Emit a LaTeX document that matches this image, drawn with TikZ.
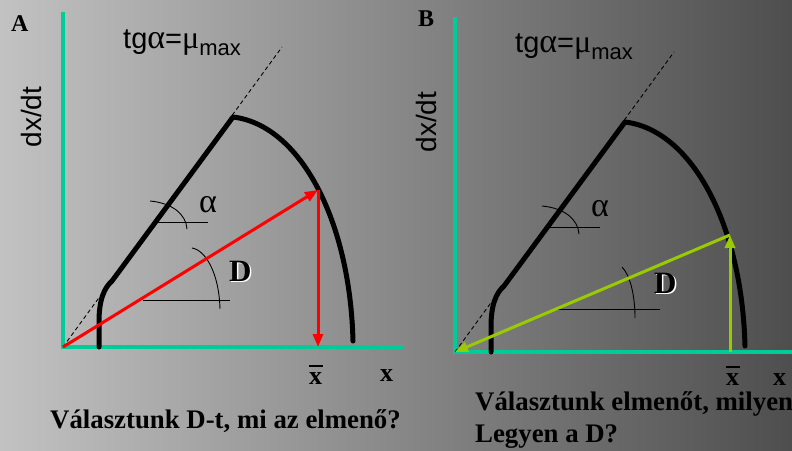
\documentclass[tikz,border=0pt]{standalone}
\usepackage{fontspec}
\setmainfont{Liberation Serif}
\setsansfont{Liberation Sans}
\usetikzlibrary{positioning,arrows.meta}
\definecolor{axisgreen}{RGB}{0,204,153}
\definecolor{limegreen}{RGB}{153,204,0}
\definecolor{bgleft}{RGB}{194,194,194}
\definecolor{bgmid}{RGB}{158,158,158}
\definecolor{bgright}{RGB}{78,78,78}

\newcommand{\embossD}{\makebox[0pt][l]{\hspace{1.5pt}\raisebox{-1.5pt}{\color{white}D}}D}
\newcommand{\xbar}{\makebox[0pt][l]{\hspace{-0.5pt}\raisebox{17pt}{\rule{14pt}{2.4pt}}}x}
\newcommand{\bigalpha}{{\rmfamily\fontsize{34}{34}\selectfont α}}

\begin{document}
\begin{tikzpicture}[
    x=1pt, y=-1pt,
    axis/.style={
        draw=axisgreen,
        line width=3.5pt
    },
    curve/.style={
        draw=black,
        line width=5pt,
        line cap=round,
        line join=round
    },
    guide/.style={
        draw=black,
        line width=0.9pt,
        dash pattern=on 4pt off 3pt
    },
    anglemark/.style={
        draw=black,
        line width=0.9pt
    },
    vec/.style={
        line width=3pt,
        -{Triangle[length=13pt,width=10pt]}
    },
    panel/.style={
        anchor=base west,
        inner sep=0pt,
        font=\bfseries\fontsize{24}{26}\selectfont
    },
    caption/.style={
        anchor=base west,
        inner sep=0pt,
        font=\bfseries\fontsize{26.8}{32}\selectfont
    },
    xlabel/.style={
        anchor=base west,
        inner sep=0pt,
        font=\bfseries\fontsize{26}{28}\selectfont
    },
    ylabel/.style={
        rotate=90,
        inner sep=0pt,
        font=\sffamily\fontsize{28}{32}\selectfont
    },
    formula/.style={
        anchor=base west,
        inner sep=0pt,
        font=\sffamily\fontsize{29}{32}\selectfont
    },
    greek/.style={
        anchor=base west,
        inner sep=0pt,
        font=\fontsize{34}{36}\selectfont
    },
    dlabel/.style={
        anchor=base west,
        inner sep=0pt,
        font=\bfseries\fontsize{31}{34}\selectfont
    }
]

% background
\useasboundingbox (0,0) rectangle (792,450);
\shade[left color=bgleft, middle color=bgmid, right color=bgright]
    (0,0) rectangle (792,450);

% panel A: D is chosen
\node[panel] (labA) at (11,31) {A};
\node[ylabel] (ylabA) at (31,117) {dx/dt};
\node[formula] (tgA) at (123,48)
    {tg\bigalpha={\rmfamily\fontsize{32}{32}\selectfont μ}\raisebox{-7pt}{\fontsize{22}{24}\selectfont max}};

\coordinate (oA) at (63,347);
\coordinate (ytopA) at (63,12);
\coordinate (xendA) at (403,347);
\draw[axis] (ytopA) -- (oA) -- (xendA);

\coordinate (slopeA) at (282,47);
\draw[guide] (oA) -- (slopeA);

\coordinate (footA) at (99,347);
\coordinate (kneeA) at (112,281);
\coordinate (peakA) at (233,117);
\coordinate (endA) at (353,341);
\draw[curve] (footA) -- (99,322) .. controls (99,300) and (104,288) .. (kneeA)
    -- (peakA) .. controls (300,125) and (350,220) .. (endA);

% angle marks
\draw[anglemark] (150,201) .. controls (172,203) and (186,214) .. (187,229);
\draw[anglemark] (156,222) -- (208,222);
\node[greek] (alphaA) at (199,212) {α};

\draw[anglemark] (192,248) .. controls (205,250) and (219,272) .. (220,309);
\draw[anglemark] (143,300) -- (230,300);
\node[dlabel] (dA) at (229,281) {\embossD};

% chosen D gives the steady state
\coordinate (hitA) at (318,190);
\coordinate (xbarA) at (318,347);
\draw[vec, red] (oA) -- (hitA);
\draw[vec, red] (hitA) -- (xbarA);

\node[xlabel] (xbA) at (309,384) {\xbar};
\node[xlabel] (xA) at (380,381) {x};
\node[caption] (capA) at (50,428) {Választunk D-t, mi az elmenő?};

% panel B: the outflow is chosen
\node[panel] (labB) at (418,26) {B};
\begin{scope}[shift={(392,5)}]
\node[ylabel] (ylabB) at (34,117) {dx/dt};
\node[formula] (tgB) at (123,47)
    {tg\bigalpha={\rmfamily\fontsize{32}{32}\selectfont μ}\raisebox{-7pt}{\fontsize{22}{24}\selectfont max}};

\coordinate (oB) at (63,347);
\coordinate (ytopB) at (63,12);
\coordinate (xendB) at (410,347);
\draw[axis] (ytopB) -- (oB) -- (xendB);

\coordinate (slopeB) at (282,47);
\draw[guide] (oB) -- (slopeB);

\coordinate (footB) at (99,347);
\coordinate (kneeB) at (112,281);
\coordinate (peakB) at (233,117);
\coordinate (endB) at (353,341);
\draw[curve] (footB) -- (99,322) .. controls (99,300) and (104,288) .. (kneeB)
    -- (peakB) .. controls (300,125) and (350,220) .. (endB);

\draw[anglemark] (150,201) .. controls (172,203) and (186,214) .. (187,229);
\draw[anglemark] (156,222) -- (208,222);
\node[greek] (alphaB) at (199,211) {α};

\draw[anglemark] (230,262) .. controls (238,270) and (243,290) .. (243,313);
\draw[anglemark] (163,304) -- (268,304);
\node[dlabel] (dB) at (262,288) {\embossD};

\coordinate (xbarB) at (338,347);
\coordinate (hitB) at (338,230);
\draw[vec, limegreen] (xbarB) -- (hitB);
\draw[vec, limegreen] (hitB) -- (oB);

\node[xlabel] (xbB) at (334,380) {\xbar};
\node[xlabel] (xB) at (381,380) {x};
\end{scope}
\node[caption] (capB) at (475,410) {Választunk elmenőt, milyen};
\node[caption] (capB2) at ([yshift=-32pt]capB.base west) {Legyen a D?};

\end{tikzpicture}
\end{document}
